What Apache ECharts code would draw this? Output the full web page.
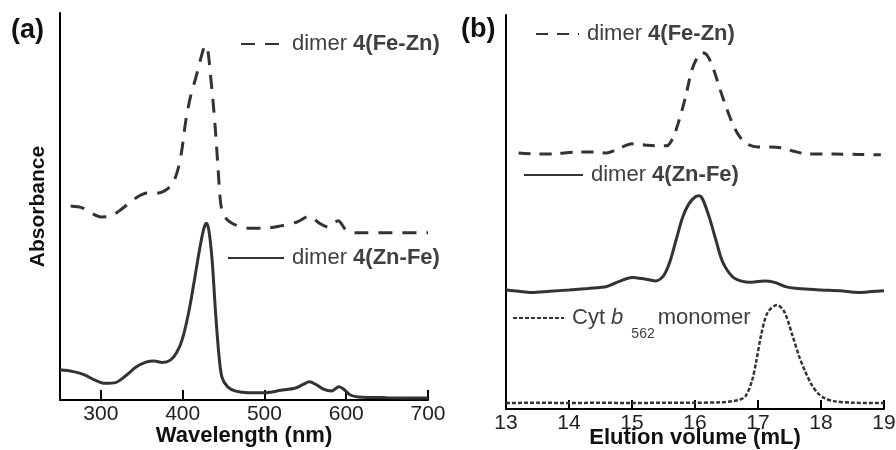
<!DOCTYPE html>
<html>
<head>
<meta charset="utf-8">
<script src="https://cdn.jsdelivr.net/npm/echarts@6/dist/echarts.min.js"></script>
<style>html,body{margin:0;padding:0;background:#fff}#c{width:896px;height:450px}</style>
</head>
<body>
<div id="c"></div>
<script>
// ---------- Panel (a): UV-vis absorbance (arbitrary units) ----------
var wlFeZnA = [263,278,290,300,312,322,333,345,357,370,380,388,394,399,404,410,416,421,425,428,431,434,437,440,443,446,449,455,465,480,500,520,540,555,567,578,590,600,612,650,700];
var absFeZnA = [0.501,0.496,0.481,0.473,0.475,0.488,0.506,0.525,0.535,0.535,0.543,0.561,0.594,0.646,0.724,0.788,0.832,0.873,0.904,0.917,0.899,0.840,0.775,0.698,0.607,0.517,0.483,0.465,0.452,0.444,0.444,0.450,0.460,0.475,0.457,0.447,0.463,0.439,0.432,0.432,0.432];

var wlZnFeA = [250,265,280,292,305,318,330,343,355,365,375,385,393,400,408,415,421,426,429,432,436,440,444,448,455,465,480,500,520,538,548,555,563,572,582,591,597,605,615,650,700];
var absZnFeA = [0.078,0.074,0.065,0.052,0.043,0.045,0.062,0.085,0.098,0.101,0.097,0.103,0.124,0.160,0.233,0.318,0.393,0.444,0.457,0.439,0.362,0.233,0.124,0.059,0.034,0.023,0.019,0.019,0.025,0.031,0.041,0.047,0.040,0.028,0.023,0.034,0.028,0.013,0.008,0.006,0.005];

var wlTicksA = [300,400,500,600,700];

// ---------- Panel (b): size-exclusion elution (arbitrary units) ----------
var volFeZnB = [13.2,13.5,13.8,14.1,14.4,14.6,14.8,15.0,15.2,15.4,15.55,15.65,15.75,15.85,15.95,16.05,16.12,16.2,16.3,16.4,16.5,16.6,16.7,16.82,17.0,17.2,17.4,17.55,17.8,18.2,18.6,18.95];
var sigFeZnB = [0.650,0.647,0.648,0.652,0.652,0.650,0.662,0.673,0.670,0.668,0.668,0.688,0.734,0.792,0.860,0.896,0.904,0.896,0.860,0.810,0.764,0.723,0.693,0.673,0.665,0.665,0.662,0.655,0.647,0.647,0.646,0.645];

var volZnFeB = [13.0,13.2,13.4,13.7,14.0,14.3,14.6,14.8,15.0,15.2,15.37,15.5,15.6,15.7,15.8,15.9,16.0,16.06,16.12,16.23,16.34,16.44,16.6,16.75,16.9,17.1,17.25,17.45,17.7,18.0,18.3,18.6,18.8,19.0];
var sigZnFeB = [0.302,0.299,0.296,0.299,0.302,0.306,0.311,0.324,0.334,0.330,0.325,0.338,0.373,0.429,0.485,0.520,0.538,0.541,0.533,0.485,0.424,0.373,0.335,0.324,0.322,0.325,0.322,0.310,0.305,0.302,0.300,0.296,0.298,0.300];

var volMonoB = [13.0,13.5,14.0,14.5,15.0,15.5,16.0,16.4,16.6,16.7,16.8,16.9,16.97,17.05,17.15,17.3,17.42,17.55,17.65,17.75,17.85,17.95,18.05,18.2,18.5,19.0];
var sigMonoB = [0.015,0.016,0.015,0.016,0.015,0.016,0.016,0.017,0.020,0.023,0.032,0.069,0.119,0.188,0.244,0.264,0.246,0.185,0.135,0.095,0.062,0.040,0.028,0.020,0.016,0.015];

var volTicksB = [13,14,15,16,17,18,19];

function zip(xs, ys){ return xs.map(function(x,i){ return [x, ys[i]]; }); }

var FONT = '"Liberation Sans", Arial, sans-serif';
var LINE = '#333333';
var richLegend = {
  r: {fontFamily: FONT, fontSize: 22, color: '#404040', fontWeight: 'normal'},
  b: {fontFamily: FONT, fontSize: 22, color: '#404040', fontWeight: 'bold'},
  i: {fontFamily: FONT, fontSize: 22, color: '#404040', fontStyle: 'italic'},
  s: {fontFamily: FONT, fontSize: 14, color: '#404040', padding: [32, 3, 0, 8]}
};
var labelMap = {
  'aFeZn': '{r|dimer }{b|4(Fe-Zn)}',
  'aZnFe': '{r|dimer }{b|4(Zn-Fe)}',
  'bFeZn': '{r|dimer }{b|4(Fe-Zn)}',
  'bZnFe': '{r|dimer }{b|4(Zn-Fe)}',
  'bMono': '{r|Cyt }{i|b}{s|562}{r|monomer}'
};
function mkLegend(name, left, top, w){
  return {
    data: [name], left: left, top: top, orient: 'horizontal',
    itemWidth: w, itemHeight: 14, padding: 0, selectedMode: false,
    itemStyle: {color: 'rgba(0,0,0,0)', borderColor: 'rgba(0,0,0,0)', borderWidth: 0, opacity: 0},
    formatter: function(n){ return labelMap[n]; },
    textStyle: {rich: richLegend, padding: [0,0,0,3]}
  };
}

var chart = echarts.init(document.getElementById('c'), null, {renderer: 'canvas'});
var axisLineStyle = {color: '#000', width: 2};
chart.setOption({
  animation: false,
  backgroundColor: '#fff',
  title: [
    {text: '(a)', left: 11, top: 17, padding: 0, textStyle: {fontFamily: FONT, fontSize: 27, fontWeight: 'bold', color: '#111'}},
    {text: '(b)', left: 461, top: 16, padding: 0, textStyle: {fontFamily: FONT, fontSize: 27, fontWeight: 'bold', color: '#111'}}
  ],
  legend: [
    mkLegend('aFeZn', 240, 33, 43),
    mkLegend('aZnFe', 227, 247, 56),
    mkLegend('bFeZn', 535, 23, 43),
    mkLegend('bZnFe', 523, 164, 59),
    mkLegend('bMono', 512, 307, 51)
  ],
  grid: [
    {left: 60, right: 468, top: 13, bottom: 50, outerBoundsMode: 'none', containLabel: false},
    {left: 506, right: 12, top: 15, bottom: 41, outerBoundsMode: 'none', containLabel: false}
  ],
  xAxis: [
    {gridIndex: 0, type: 'value', min: 250, max: 700,
     axisLine: {lineStyle: axisLineStyle},
     axisTick: {show: true, inside: true, length: 10, customValues: wlTicksA, lineStyle: {color: '#000', width: 2}},
     axisLabel: {customValues: wlTicksA, fontFamily: FONT, fontSize: 21, color: '#222', margin: 4},
     splitLine: {show: false},
     name: 'Wavelength (nm)', nameLocation: 'middle', nameGap: 25, nameMoveOverlap: false,
     nameTextStyle: {fontFamily: FONT, fontSize: 22, fontWeight: 'bold', color: '#111'}},
    {gridIndex: 1, type: 'value', min: 13, max: 19, interval: 1,
     axisLine: {lineStyle: axisLineStyle},
     axisTick: {show: true, inside: true, length: 9, customValues: volTicksB, lineStyle: {color: '#000', width: 2}},
     axisLabel: {customValues: volTicksB, fontFamily: FONT, fontSize: 21, color: '#222', margin: 4},
     splitLine: {show: false},
     name: 'Elution volume (mL)', nameLocation: 'middle', nameGap: 18, nameMoveOverlap: false,
     nameTextStyle: {fontFamily: FONT, fontSize: 22, fontWeight: 'bold', color: '#111'}}
  ],
  yAxis: [
    {gridIndex: 0, type: 'value', min: 0, max: 1,
     axisLine: {show: true, lineStyle: axisLineStyle}, axisTick: {show: false}, axisLabel: {show: false}, splitLine: {show: false},
     name: 'Absorbance', nameLocation: 'middle', nameGap: 11,
     nameTextStyle: {fontFamily: FONT, fontSize: 21, fontWeight: 'bold', color: '#111'}},
    {gridIndex: 1, type: 'value', min: 0, max: 1,
     axisLine: {show: true, lineStyle: axisLineStyle}, axisTick: {show: false}, axisLabel: {show: false}, splitLine: {show: false}}
  ],
  series: [
    {name: 'aFeZn', type: 'line', xAxisIndex: 0, yAxisIndex: 0, data: zip(wlFeZnA, absFeZnA),
     symbol: 'none', smooth: 0.3, lineStyle: {color: LINE, width: 3, type: [14, 10]}, itemStyle: {color: LINE}},
    {name: 'aZnFe', type: 'line', xAxisIndex: 0, yAxisIndex: 0, data: zip(wlZnFeA, absZnFeA),
     symbol: 'none', smooth: 0.3, lineStyle: {color: LINE, width: 3, type: 'solid'}, itemStyle: {color: LINE}},
    {name: 'bFeZn', type: 'line', xAxisIndex: 1, yAxisIndex: 1, data: zip(volFeZnB, sigFeZnB),
     symbol: 'none', smooth: 0.3, lineStyle: {color: LINE, width: 3, type: [12, 9]}, itemStyle: {color: LINE}},
    {name: 'bZnFe', type: 'line', xAxisIndex: 1, yAxisIndex: 1, data: zip(volZnFeB, sigZnFeB),
     symbol: 'none', smooth: 0.3, lineStyle: {color: LINE, width: 3, type: 'solid'}, itemStyle: {color: LINE}},
    {name: 'bMono', type: 'line', xAxisIndex: 1, yAxisIndex: 1, data: zip(volMonoB, sigMonoB),
     symbol: 'none', smooth: 0.3, lineStyle: {color: LINE, width: 2.5, type: [4, 2]}, itemStyle: {color: LINE}}
  ]
});
</script>
</body>
</html>
